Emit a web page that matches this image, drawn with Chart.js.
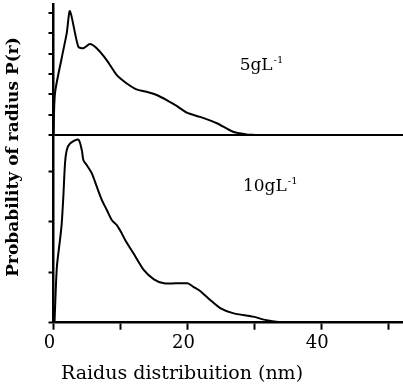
<!DOCTYPE html>
<html>
<head>
<meta charset="utf-8">
<script src="https://cdn.jsdelivr.net/npm/chart.js@4.4.1/dist/chart.umd.min.js"></script>
<style>
  body { margin: 0; background: #fff; }
  #wrap { width: 403px; height: 386px; }
</style>
</head>
<body>
<div id="wrap"><canvas id="myChart"></canvas></div>
<script>
// courbe 5 g/L (panneau du haut)
const rayon5 = [0, 0.22, 1.22, 1.97, 2.46, 3.7, 4.45, 5.45, 6.45, 7.94, 9.43, 10.9, 12.4, 13.9, 15.4, 16.9, 18.4, 19.9, 21.9, 24.4, 26.8, 28.8, 30.1];
const prob5 = [0, 2.05, 3.78, 5.0, 6.1, 4.35, 4.27, 4.48, 4.27, 3.69, 2.96, 2.55, 2.25, 2.13, 1.97, 1.72, 1.43, 1.1, 0.89, 0.58, 0.16, 0.03, 0];

// courbe 10 g/L (panneau du bas)
const rayon10 = [0.15, 0.5, 0.97, 1.23, 1.47, 1.72, 1.98, 2.47, 3.72, 4.23, 4.47, 4.98, 5.73, 6.48, 7.23, 7.98, 8.73, 9.48, 10.2, 10.7, 11.96, 13.5, 15.0, 16.5, 20.0, 20.9, 21.9, 23.4, 24.9, 26.8, 29.8, 31.8, 34.3];
const prob10 = [0, 1.1, 1.64, 1.97, 2.5, 3.16, 3.42, 3.55, 3.63, 3.42, 3.22, 3.12, 2.96, 2.69, 2.43, 2.23, 2.03, 1.93, 1.77, 1.64, 1.37, 1.04, 0.86, 0.78, 0.78, 0.71, 0.63, 0.45, 0.29, 0.19, 0.12, 0.05, 0];

const xTickLabels = ['0', '20', '40'];
const titreX = 'Raidus distribuition (nm)';
const titreY = 'Probability of radius P(r)';

const serif = '"DejaVu Serif", serif';

// textes: titres des axes et concentrations
const textes = {
  id: 'textes',
  afterDraw(chart) {
    const ctx = chart.ctx;
    const sx = chart.scales.x;
    const yHaut = chart.scales.yHaut;
    const yBas = chart.scales.yBas;
    ctx.save();
    ctx.fillStyle = '#000';
    ctx.textBaseline = 'alphabetic';

    // concentrations avec exposant
    function conc(txt, x, y) {
      ctx.font = '17px ' + serif;
      ctx.textAlign = 'left';
      ctx.fillText(txt, x, y);
      const w = ctx.measureText(txt).width;
      ctx.font = '10px ' + serif;
      ctx.fillText('-1', w + x + 1, y - 7);
    }
    conc('5gL', sx.getPixelForValue(27.8), yHaut.getPixelForValue(3.2));
    conc('10gL', sx.getPixelForValue(28.3), yBas.getPixelForValue(2.61));

    // titre axe x
    ctx.font = '19px ' + serif;
    ctx.textAlign = 'center';
    ctx.textBaseline = 'middle';
    ctx.fillText(titreX, 182, 374);

    // titre axe y
    ctx.translate(14, 157);
    ctx.rotate(-Math.PI / 2);
    ctx.font = 'bold 17px ' + serif;
    ctx.fillText(titreY, 0, 0);
    ctx.restore();
  }
};

const config = {
  type: 'line',
  data: {
    datasets: [
      {
        label: '5gL-1',
        data: rayon5.map((r, i) => ({ x: r, y: prob5[i] })),
        yAxisID: 'yHaut',
        borderColor: '#000',
        borderWidth: 2,
        pointRadius: 0,
        tension: 0.25,
        fill: false
      },
      {
        label: '10gL-1',
        data: rayon10.map((r, i) => ({ x: r, y: prob10[i] })),
        yAxisID: 'yBas',
        borderColor: '#000',
        borderWidth: 2,
        pointRadius: 0,
        tension: 0.25,
        fill: false
      }
    ]
  },
  options: {
    responsive: true,
    maintainAspectRatio: false,
    animation: false,
    layout: { padding: { top: 4, right: 0, left: 0, bottom: 0 } },
    plugins: {
      legend: { display: false },
      tooltip: { enabled: false }
    },
    scales: {
      x: {
        type: 'linear',
        min: 0,
        max: 52.2,
        afterFit: (s) => { s.height = 63.3; },
        border: { color: '#000', width: 2.5 },
        grid: { drawOnChartArea: false, drawTicks: true, tickLength: 7, tickColor: '#000', tickWidth: 2 },
        ticks: {
          stepSize: 10,
          includeBounds: false,
          color: '#000',
          font: { family: serif, size: 18 },
          padding: 3,
          labelOffset: -4,
          maxRotation: 0,
          callback: (v) => (v % 20 === 0 ? xTickLabels[v / 20] : '')
        }
      },
      yBas: {
        type: 'linear',
        position: 'left',
        stack: 'p',
        stackWeight: 187.7,
        min: 0,
        max: 3.72,
        afterFit: (s) => { s.width = 53.5; },
        border: { color: '#000', width: 2.5 },
        grid: { drawOnChartArea: false, tickLength: 5, tickColor: '#000', tickWidth: 2 },
        ticks: { stepSize: 1, includeBounds: false, display: false }
      },
      yHaut: {
        type: 'linear',
        position: 'left',
        stack: 'p',
        stackWeight: 131,
        min: 0,
        max: 6.45,
        afterFit: (s) => { s.width = 53.5; },
        border: { color: '#000', width: 2.5 },
        grid: {
          color: (c) => (c.tick && c.tick.value === 0 ? '#000' : 'rgba(0,0,0,0)'),
          lineWidth: 2,
          tickLength: 5,
          tickColor: '#000',
          tickWidth: 2
        },
        ticks: { stepSize: 1, includeBounds: false, display: false }
      }
    }
  },
  plugins: [textes]
};

const ctx = document.getElementById('myChart').getContext('2d');
const myChart = new Chart(ctx, config);
</script>
</body>
</html>
